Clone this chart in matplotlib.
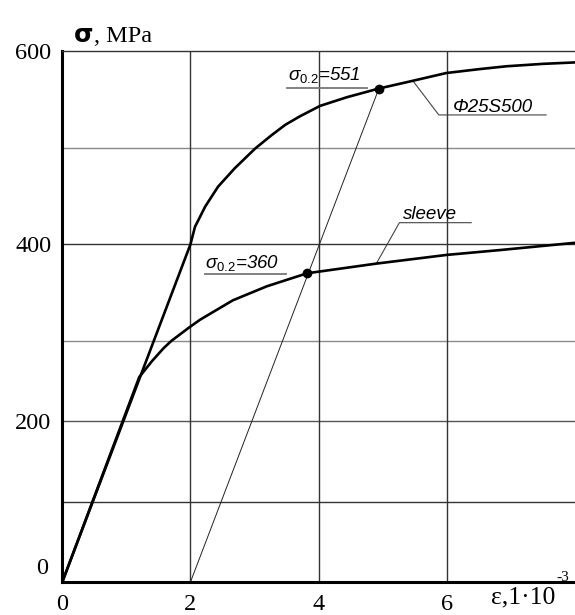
import numpy as np
import matplotlib
matplotlib.use("Agg")
import matplotlib.pyplot as plt

plt.rcParams['mathtext.fontset'] = 'custom'
plt.rcParams['mathtext.it'] = 'Liberation Sans:italic'
plt.rcParams['mathtext.rm'] = 'Liberation Sans'

# Stress-strain data (strain in 1e-3, stress in MPa)
rebar_eps = [0, 2.0, 2.07, 2.23, 2.43, 2.69, 3.01, 3.27, 3.48, 3.70, 4.02, 4.44,
             4.94, 5.47, 5.99, 6.5, 6.93, 7.5, 8.0]
rebar_sig = [0, 400, 418, 439, 459.5, 478.5, 499, 513, 523.5, 532, 543, 552,
             561, 569, 577, 581, 584, 586.5, 588]

sleeve_eps = [0, 1.20, 1.40, 1.58, 1.70, 1.98, 2.15, 2.66, 3.19, 3.82, 4.90, 6.0, 6.83, 8.0]
sleeve_sig = [0, 255, 275, 291, 300, 314, 322, 342, 356.5, 370, 380, 389, 394, 401.5]

offset_eps = [2.0, 4.94]
offset_sig = [0, 561]

yield_eps = [3.82, 4.94]
yield_sig = [370, 561]
yield_labels = [r"$\sigma_{\mathit{0.2}}$=360", r"$\sigma_{\mathit{0.2}}$=551"]

x_ticks = [0, 2, 4, 6]
y_ticks = [200, 400, 600]
h_grid = [100, 200, 300, 400, 500]
h_grid_colors = ['#333333', '#555555', '#8a8a8a', '#333333', '#8a8a8a']
v_grid = [2, 4, 6]

# the drawing's stress axis is stretched above 300 MPa
K = 1.204


def fwd(y):
    y = np.asarray(y, dtype=float)
    return np.where(y <= 300, y, 300 + (y - 300) * K)


def inv(f):
    f = np.asarray(f, dtype=float)
    return np.where(f <= 300, f, 300 + (f - 300) / K)


fig = plt.figure(figsize=(5.75, 6.15), dpi=100)
ax = fig.add_axes([62.3 / 575, 33 / 615, (575 - 62.3) / 575, (582 - 50.8) / 615])
ax.set_yscale('function', functions=(fwd, inv))
ax.set_xlim(0, 8.0)
ax.set_ylim(0, 600)

# grid
for lvl, c in zip(h_grid, h_grid_colors):
    ax.axhline(lvl, color=c, lw=1.0, zorder=1)
for v in v_grid:
    ax.axvline(v, color='#333333', lw=1.0, zorder=1)

# curves
ax.plot(rebar_eps, rebar_sig, color='black', lw=1.9, zorder=3)
ax.plot(sleeve_eps, sleeve_sig, color='black', lw=1.9, zorder=3)
ax.plot(offset_eps, offset_sig, color='#222222', lw=0.7, zorder=2)
ax.plot(yield_eps, yield_sig, 'o', color='black', ms=6, zorder=4)

# yield labels with underline
lab_kw = dict(fontsize=13.5, fontstyle='italic', family='Liberation Sans', va='baseline')
ax.text(2.22, 375.5, yield_labels[0], **lab_kw)
ax.plot([2.22, 3.49], [369, 369], color='#777777', lw=1.3)
ax.text(3.52, 570, yield_labels[1], **lab_kw)
ax.plot([3.50, 4.76], [562, 562], color='#777777', lw=1.3)

# leaders
ax.plot([5.47, 5.875, 7.55], [569, 533.7, 533.7], color='#444444', lw=0.8)
ax.text(6.09, 536.8, "Φ25S500", **lab_kw)
ax.plot([4.90, 5.26, 6.38], [380, 422.3, 422.3], color='#444444', lw=0.8)
ax.text(5.32, 426, "sleeve", **lab_kw)

# axes styling
for s in ['left', 'bottom']:
    ax.spines[s].set_linewidth(2.2)
ax.spines['top'].set_linewidth(1.0)
ax.spines['top'].set_color('#333333')
ax.spines['right'].set_visible(False)

ax.set_xticks(x_ticks)
ax.set_xticklabels([str(t) for t in x_ticks], family='Liberation Serif', fontsize=17.5)
ax.set_yticks(y_ticks)
ax.set_yticklabels([str(t) for t in y_ticks], family='Liberation Serif', fontsize=17.5)
ax.yaxis.set_minor_locator(matplotlib.ticker.NullLocator())
ax.tick_params(axis='both', length=0)
ax.tick_params(axis='x', pad=9)
ax.tick_params(axis='y', pad=8)

# y zero label sits above the axis in the drawing
fig.text(48.5 / 575, 1 - 568 / 615, "0", family='Liberation Serif', fontsize=17.5,
         ha='right', va='center')

# axis titles
fig.text(74 / 575, 1 - 42 / 615, "σ", family='DejaVu Sans', fontweight='bold',
         fontsize=18, va='baseline')
fig.text(94 / 575, 1 - 42 / 615, ", MPa", family='Liberation Serif', fontsize=17.5,
         va='baseline')
fig.text(491 / 575, 1 - 603 / 615, "ε,1·10", family='Liberation Serif',
         fontsize=18.5, va='baseline')
fig.text(556 / 575, 1 - 581 / 615, "-3", family='Liberation Serif', fontsize=11,
         va='baseline')

fig.savefig("out.png", dpi=100)
